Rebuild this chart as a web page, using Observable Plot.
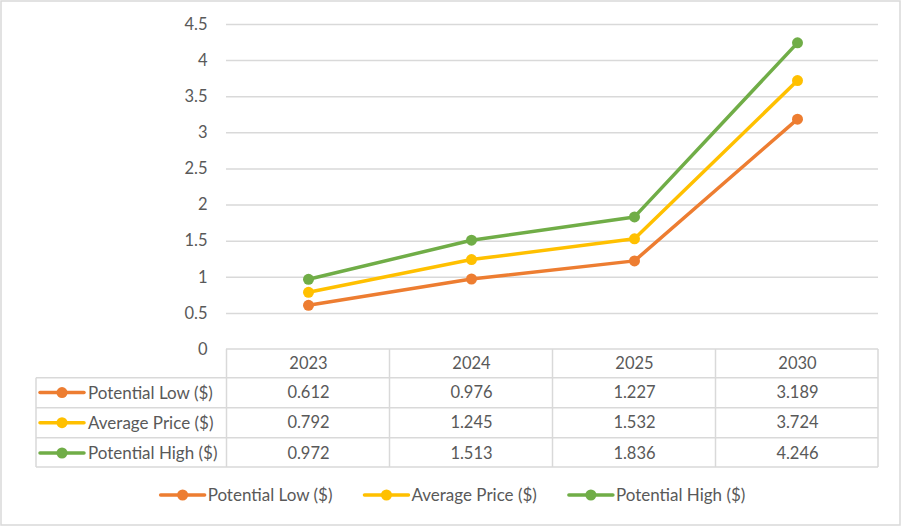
<!DOCTYPE html>
<html><head><meta charset="utf-8">
<script src="https://cdn.jsdelivr.net/npm/d3@7"></script>
<script src="https://cdn.jsdelivr.net/npm/@observablehq/plot@0.6"></script>
<style>body{margin:0;background:#fff} svg{display:block}</style>
</head><body><div id="chart"></div>
<script>
const years = ["2023", "2024", "2025", "2030"];
const seriesNames = ["Potential Low ($)", "Average Price ($)", "Potential High ($)"];
const potentialLow = [0.612, 0.976, 1.227, 3.189];
const averagePrice = [0.792, 1.245, 1.532, 3.724];
const potentialHigh = [0.972, 1.513, 1.836, 4.246];
const yTicks = [0, 0.5, 1, 1.5, 2, 2.5, 3, 3.5, 4, 4.5];
const colors = ["#ED7D31", "#FFC000", "#70AD47"];

const seriesValues = [potentialLow, averagePrice, potentialHigh];
const rows = seriesNames.flatMap((s, i) => years.map((y, j) => ({series: s, year: y, value: seriesValues[i][j], row: i})));

const FONT = "Lato, 'Open Sans', sans-serif";
const TXT = "#595959";
const GRID = "#d9d9d9";
const rowDy = [43.6, 73.7, 104];

const plot = Plot.plot({
  width: 902, height: 527,
  marginLeft: 226, marginRight: 24, marginTop: 24, marginBottom: 178,
  style: {fontFamily: FONT, fontSize: "16px", color: TXT, background: "#fff"},
  x: {type: "point", domain: years, padding: 0.5, axis: null},
  y: {domain: [0, 4.5], axis: null},
  color: {domain: seriesNames, range: colors},
  marks: [
    Plot.ruleY(yTicks.filter(d => d > 0), {stroke: GRID, strokeWidth: 1.5}),
    Plot.axisY(yTicks, {tickSize: 0, tickPadding: 19, tickFormat: d => String(d), fontSize: 16.5, fill: TXT, label: null}),
    Plot.line(rows, {x: "year", y: "value", z: "series", stroke: "series", strokeWidth: 3.5}),
    Plot.dot(rows, {x: "year", y: "value", fill: "series", r: 5.5}),
    Plot.text(years, {x: d => d, y: () => 0, dy: 14, fill: TXT, fontSize: 16.5}),
    ...seriesValues.map((vals, i) =>
      Plot.text(rows.filter(r => r.row === i), {x: "year", y: () => 0, dy: rowDy[i], text: d => d.value.toFixed(3), fill: TXT, fontSize: 16.5})
    )
  ]
});
document.getElementById("chart").append(plot);

// Decorations: outer border, data table grid, table keys, bottom legend
const svg = d3.select(plot);
const xs = plot.scale("x"), ys = plot.scale("y");
const x0 = xs.range[0], x1 = xs.range[1];
const step = (x1 - x0) / years.length;
const yTop = ys.apply(0);
const rowLines = [yTop + 28.7, yTop + 58.7, yTop + 88.7, yTop + 118];
const tableLeft = 36;
const g = svg.append("g").attr("stroke", GRID).attr("stroke-width", 1.5).attr("fill", "none");
g.append("rect").attr("x", 1).attr("y", 1).attr("width", 899).attr("height", 524);
g.append("line").attr("x1", x0).attr("x2", x1).attr("y1", yTop).attr("y2", yTop);
rowLines.forEach(y => g.append("line").attr("x1", tableLeft).attr("x2", x1).attr("y1", y).attr("y2", y));
g.append("line").attr("x1", tableLeft).attr("x2", tableLeft).attr("y1", rowLines[0]).attr("y2", rowLines[3]);
years.forEach(y => {
  const xb = xs.apply(y) - step / 2;
  g.append("line").attr("x1", xb).attr("x2", xb).attr("y1", yTop).attr("y2", rowLines[3]);
});
g.append("line").attr("x1", x1).attr("x2", x1).attr("y1", yTop).attr("y2", rowLines[3]);

function key(parent, x, y, color) {
  parent.append("line").attr("x1", x).attr("x2", x + 44).attr("y1", y).attr("y2", y)
    .attr("stroke", color).attr("stroke-width", 3.5).attr("stroke-linecap", "round");
  parent.append("circle").attr("cx", x + 22).attr("cy", y).attr("r", 5.5).attr("fill", color);
}
const tk = svg.append("g").attr("font-family", FONT).attr("font-size", 17).attr("fill", TXT).attr("text-anchor", "start");
seriesNames.forEach((s, i) => {
  const cy = yTop + rowDy[i];
  key(tk, 40, cy, colors[i]);
  tk.append("text").attr("x", 88).attr("y", cy).attr("dy", "0.35em").attr("text-anchor", "start").text(s);
});

const lg = svg.append("g").attr("font-family", FONT).attr("font-size", 17).attr("fill", TXT).attr("text-anchor", "start");
let cx = 0;
const items = [];
seriesNames.forEach((s, i) => {
  const it = lg.append("g");
  key(it, 0, 0, colors[i]);
  const t = it.append("text").attr("x", 47).attr("y", 0).attr("dy", "0.35em").attr("text-anchor", "start").text(s);
  const w = 47 + t.node().getComputedTextLength();
  items.push({it, x: cx});
  cx += w + 32;
});
const total = cx - 32;
const start = 453 - total / 2;
items.forEach(({it, x}) => it.attr("transform", `translate(${start + x},495)`));
</script>
</body></html>
